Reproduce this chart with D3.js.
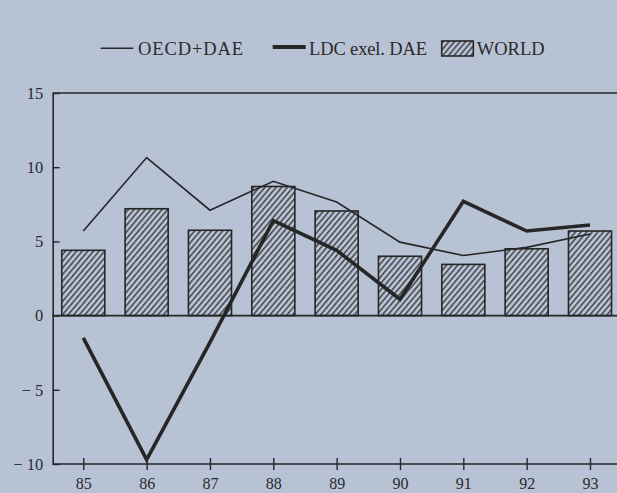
<!DOCTYPE html>
<html>
<head>
<meta charset="utf-8">
<script src="https://cdn.jsdelivr.net/npm/d3@7"></script>
<style>
  html, body { margin: 0; padding: 0; background: #b8c2d5; }
  svg { display: block; }
  text { font-family: "Liberation Serif", "Times New Roman", serif; fill: #2a2a2a; }
</style>
</head>
<body>
<svg id="chart" width="617" height="493"></svg>
<script>
const years = ["85", "86", "87", "88", "89", "90", "91", "92", "93"];
const worldValues = [4.4, 7.2, 5.75, 8.7, 7.05, 4.0, 3.45, 4.5, 5.7];
const oecdValues = [5.7, 10.65, 7.1, 9.05, 7.65, 4.95, 4.05, 4.6, 5.5];
const ldcValues = [-1.5, -9.7, -1.8, 6.4, 4.4, 1.1, 7.7, 5.7, 6.1];
const yTicks = [-10, -5, 0, 5, 10, 15];
const legendLabels = ["OECD+DAE", "LDC exel. DAE", "WORLD"];

const ink = "#262626";
const bg = "#b8c2d5";
const svg = d3.select("#chart");

const x = d3.scalePoint().domain(years).range([83.3, 590]);
const y = d3.scaleLinear().domain([-10, 15]).range([464, 93]);
const axisX = 52.7;
const rightEdge = 617;
const barW = x.step() * 0.68;

// hatch pattern
const defs = svg.append("defs");
const P = 4.3;
const pat = defs.append("pattern")
  .attr("id", "hatch").attr("patternUnits", "userSpaceOnUse")
  .attr("width", P).attr("height", P)
  .attr("patternTransform", "rotate(40)");
pat.append("rect").attr("width", P).attr("height", P).attr("fill", bg);
pat.append("line").attr("x1", 0.8).attr("y1", 0).attr("x2", 0.8).attr("y2", P)
  .attr("stroke", ink).attr("stroke-width", 1.2);

// bars
svg.append("g").selectAll("rect").data(years).join("rect")
  .attr("x", d => x(d) - barW / 2)
  .attr("y", (d, i) => y(worldValues[i]))
  .attr("width", barW)
  .attr("height", (d, i) => y(0) - y(worldValues[i]))
  .attr("fill", "url(#hatch)")
  .attr("stroke", ink).attr("stroke-width", 1.6);

// frame lines: top, zero, bottom
[15, 0, -10].forEach(v => {
  svg.append("line").attr("x1", axisX).attr("x2", rightEdge)
    .attr("y1", y(v)).attr("y2", y(v))
    .attr("stroke", ink).attr("stroke-width", 1.6);
});

// y axis
const yAxis = svg.append("g").attr("transform", `translate(${axisX},0)`)
  .call(d3.axisLeft(y).tickValues(yTicks).tickSizeInner(-7).tickSizeOuter(0).tickPadding(9.5)
    .tickFormat(d => d < 0 ? "\u2212 " + Math.abs(d) : String(d)));
yAxis.select(".domain").attr("stroke", ink).attr("stroke-width", 1.6);
yAxis.selectAll(".tick line").attr("stroke", ink).attr("stroke-width", 1.4);
yAxis.selectAll(".tick text").attr("font-size", 16.5).attr("font-family", "Liberation Serif").attr("fill", "#2a2a2a");

// x axis
const xAxis = svg.append("g").attr("transform", `translate(0,${y(-10)})`)
  .call(d3.axisBottom(x).tickSizeInner(6).tickSizeOuter(0).tickPadding(8));
xAxis.select(".domain").remove();
xAxis.selectAll(".tick line").attr("y1", -6).attr("y2", 6).attr("stroke", ink).attr("stroke-width", 1.4);
xAxis.selectAll(".tick text").attr("font-size", 16).attr("font-family", "Liberation Serif").attr("fill", "#2a2a2a");

// lines
const lineGen = d3.line().x(d => x(d.k)).y(d => y(d.v));
svg.append("path")
  .datum(years.map((k, i) => ({k, v: oecdValues[i]})))
  .attr("d", lineGen).attr("fill", "none")
  .attr("stroke", ink).attr("stroke-width", 1.6).attr("stroke-linejoin", "miter");
svg.append("path")
  .datum(years.map((k, i) => ({k, v: ldcValues[i]})))
  .attr("d", lineGen).attr("fill", "none")
  .attr("stroke", ink).attr("stroke-width", 3.6).attr("stroke-linejoin", "miter");

// legend
const lg = svg.append("g");
lg.append("line").attr("x1", 100.7).attr("x2", 133.3).attr("y1", 48.3).attr("y2", 48.3)
  .attr("stroke", ink).attr("stroke-width", 1.6);
lg.append("text").attr("x", 138).attr("y", 55).attr("font-size", 18.5)
  .attr("textLength", 105).attr("lengthAdjust", "spacing").text(legendLabels[0]);
lg.append("line").attr("x1", 272.7).attr("x2", 305.7).attr("y1", 47).attr("y2", 47)
  .attr("stroke", ink).attr("stroke-width", 3.8);
lg.append("text").attr("x", 309).attr("y", 55).attr("font-size", 18.5)
  .attr("textLength", 118).attr("lengthAdjust", "spacing").text(legendLabels[1]);
lg.append("rect").attr("x", 441.7).attr("y", 41).attr("width", 31.6).attr("height", 15)
  .attr("fill", "url(#hatch)").attr("stroke", ink).attr("stroke-width", 1.6);
lg.append("text").attr("x", 476.7).attr("y", 55).attr("font-size", 18.5)
  .attr("textLength", 68).attr("lengthAdjust", "spacing").text(legendLabels[2]);
</script>
</body>
</html>
